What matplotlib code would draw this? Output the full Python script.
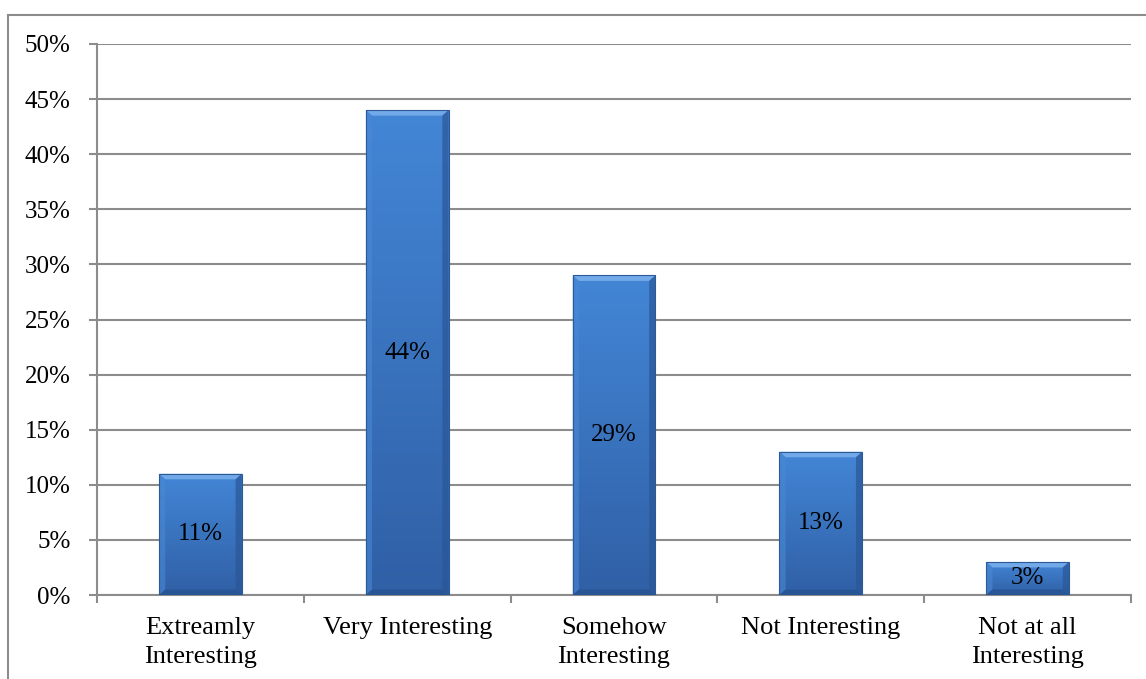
import matplotlib.pyplot as plt
import numpy as np
from matplotlib.colors import LinearSegmentedColormap
from matplotlib.patches import Polygon, Rectangle
from matplotlib.ticker import FuncFormatter, MultipleLocator

categories = ["Extreamly\nInteresting", "Very Interesting", "Somehow\nInteresting",
              "Not Interesting", "Not at all\nInteresting"]
values = [11, 44, 29, 13, 3]

plt.rcParams['font.family'] = ['Liberation Serif', 'DejaVu Serif']

fig = plt.figure(figsize=(11.46, 6.79), dpi=100)
ax = fig.add_axes([97 / 1146, 1 - 595 / 679, (1131 - 97) / 1146, (595 - 44) / 679])

# frame around the chart, running off the right and bottom edges
fig.patches.append(Rectangle((8 / 1146, -0.1), 1.2, 1 - 15 / 679 + 0.1,
                             transform=fig.transFigure, fill=False,
                             edgecolor='#8c8c8c', linewidth=1.5))

x = np.arange(len(categories))
bars = ax.bar(x, values, width=0.40, color='#3d7cce', zorder=3, edgecolor='none')

blue = LinearSegmentedColormap.from_list('barblue', ['#3060a6', '#4386d6'])
grad = np.linspace(1, 0, 100).reshape(-1, 1)

# bevel look on every bar
for b in bars:
    x0, y0 = b.get_x(), b.get_y()
    w, h = b.get_width(), b.get_height()
    x1, y1 = x0 + w, y0 + h
    im = ax.imshow(grad, extent=[x0, x1, y0, y1], aspect='auto', cmap=blue,
                   zorder=3.1, interpolation='bilinear')
    im.set_clip_path(b)
    bx = 0.03
    by = min(0.5, h * 0.2)
    # top facet (light)
    ax.add_patch(Polygon([(x0, y1), (x1, y1), (x1 - bx, y1 - by), (x0 + bx, y1 - by)],
                         closed=True, facecolor='#72a9e8', edgecolor='none', zorder=3.2))
    # left and right facets
    ax.add_patch(Polygon([(x0, y0), (x0, y1), (x0 + bx, y1 - by), (x0 + bx, y0 + by)],
                         closed=True, facecolor='#4a88d4', edgecolor='none', zorder=3.2, alpha=0.6))
    ax.add_patch(Polygon([(x1, y0), (x1, y1), (x1 - bx, y1 - by), (x1 - bx, y0 + by)],
                         closed=True, facecolor='#2a5696', edgecolor='none', zorder=3.2, alpha=0.7))
    # bottom facet (dark)
    ax.add_patch(Polygon([(x0, y0), (x1, y0), (x1 - bx, y0 + by), (x0 + bx, y0 + by)],
                         closed=True, facecolor='#275392', edgecolor='none', zorder=3.2, alpha=0.8))
    ax.add_patch(Rectangle((x0, y0), w, h, fill=False, edgecolor='#2c5a96',
                           linewidth=0.8, zorder=3.3))
    ax.text(x0 + w / 2, h / 2, f"{int(h)}%", ha='center', va='center',
            fontsize=18, color='black', zorder=4)

ax.set_xlim(-0.5, len(categories) - 0.5)
ax.set_ylim(0, 50)
ax.yaxis.set_major_locator(MultipleLocator(5))
ax.yaxis.set_major_formatter(FuncFormatter(lambda v, p: f"{int(v)}%"))
ax.grid(axis='y', color='#8c8c8c', linewidth=1.5, zorder=0)

ax.set_xticks(x)
ax.set_xticklabels(categories, fontsize=19, linespacing=1.4)
ax.set_xticks(np.arange(len(categories) + 1) - 0.5, minor=True)
ax.tick_params(axis='x', which='major', length=0, pad=16)
ax.tick_params(axis='x', which='minor', length=6, width=1.5, color='#8c8c8c')
ax.tick_params(axis='y', labelsize=18, length=6, width=1.5, color='#8c8c8c', pad=13)

for s in ['top', 'right']:
    ax.spines[s].set_visible(False)
for s in ['left', 'bottom']:
    ax.spines[s].set_color('#8c8c8c')
    ax.spines[s].set_linewidth(1.5)

fig.savefig('out.png', dpi=100)
